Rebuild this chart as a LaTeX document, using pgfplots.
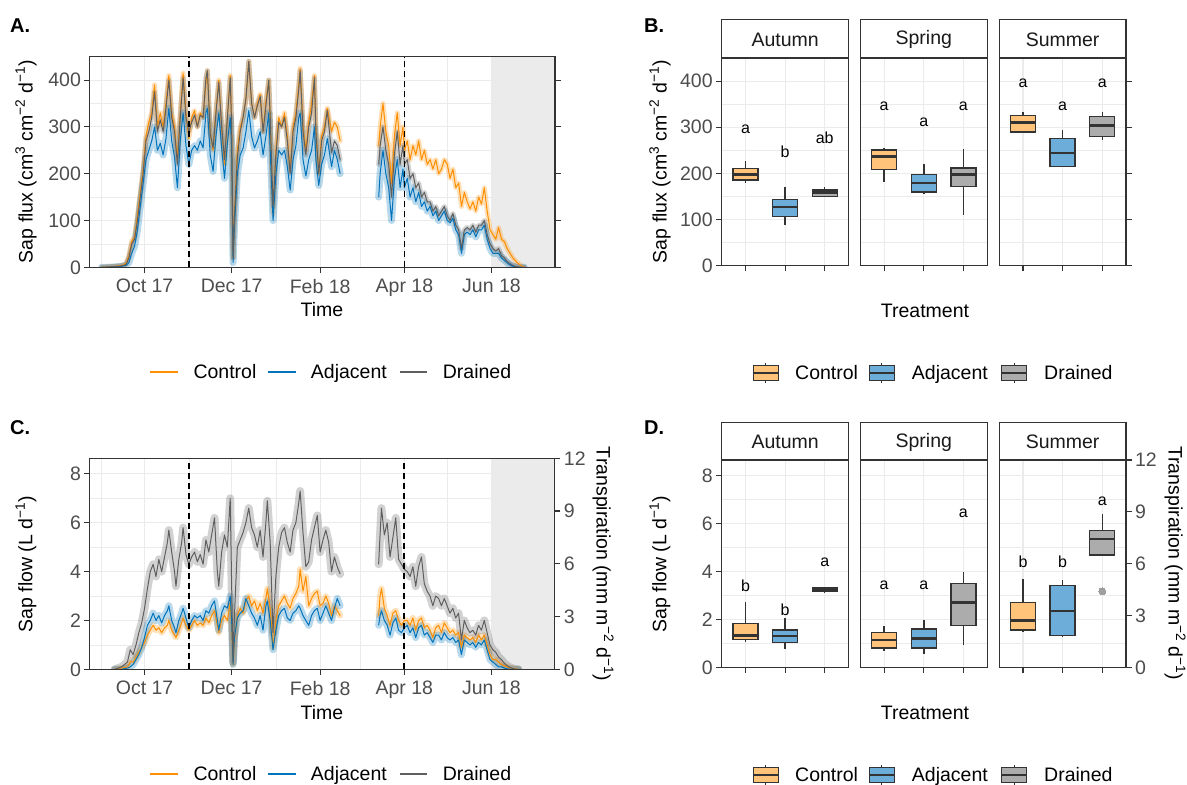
\documentclass[border=0pt]{standalone}
\usepackage{fontspec}
\setmainfont{Liberation Sans}
\usepackage{pgfplots}
\pgfplotsset{compat=1.18}
\usepackage{pgfplotstable}
\usepgfplotslibrary{statistics}

\definecolor{cctl}{RGB}{255,143,0}
\definecolor{cadj}{RGB}{0,115,187}
\definecolor{cdrn}{RGB}{95,95,95}
\definecolor{ctlfill}{RGB}{255,196,122}
\definecolor{adjfill}{RGB}{108,174,217}
\definecolor{drnfill}{RGB}{172,172,172}
\definecolor{grey20}{RGB}{51,51,51}
\definecolor{grey30}{RGB}{77,77,77}
\definecolor{grey92}{RGB}{235,235,235}
\definecolor{grey10}{RGB}{26,26,26}

\newcommand\tf{\fontsize{19.5}{22}\selectfont}
\newcommand\lf{\fontsize{16}{18}\selectfont}
\newcommand\pf{\fontsize{20}{22}\selectfont\bfseries}

\pgfplotstableread{
d c a r
-30 0 0 0
-25 1 0 1
-20 2 1 2
-16 4 2 3
-13 8 4 6
-11 25 10 20
-9 55 30 50
-7 65 45 60
-5 110 80 100
-3 160 130 150
-1 210 180 200
1 280 230 270
3 310 250 290
5 330 270 320
7 390 300 375
9 300 250 290
11 330 265 315
13 300 240 290
15 350 275 340
17 410 340 400
19 330 270 320
21 300 235 290
23 230 170 220
25 330 270 320
27 415 330 405
29 330 260 320
31 275 220 290
33 320 250 310
35 335 260 325
37 300 250 300
39 330 270 325
41 320 255 320
43 395 330 405
44 420 340 420
46 290 240 285
48 250 205 255
50 335 280 330
52 400 330 395
54 300 255 300
56 220 190 230
58 320 265 320
60 410 320 405
61 300 255 300
62 20 10 20
63 120 90 110
65 250 200 235
67 300 240 290
69 320 255 320
71 360 290 360
73 440 335 440
75 350 280 350
77 320 255 320
79 350 270 345
81 370 290 365
83 290 240 290
85 355 280 345
87 400 330 400
88 320 250 320
90 115 100 130
92 250 200 240
94 320 250 310
96 300 240 300
98 330 250 320
100 280 215 270
102 205 165 200
104 300 230 290
106 330 260 320
108 390 320 380
109 425 330 420
111 300 230 290
113 250 195 240
115 310 230 300
117 350 250 330
119 410 300 405
120 300 230 290
122 200 175 200
124 280 220 270
126 300 240 290
128 340 275 335
131 290 215 245
133 310 250 270
135 300 230 260
137 270 200 230
150 nan nan nan
164 260 150 220
165 300 200 260
167 350 250 300
169 290 200 250
171 260 170 220
173 180 100 150
175 280 190 240
177 330 230 290
179 260 170 220
181 300 210 260
182 250 170 220
184 270 190 230
186 230 150 190
188 260 170 200
190 240 140 170
192 270 160 180
194 230 130 150
196 250 140 160
198 220 120 140
200 230 130 140
202 210 110 120
204 230 120 130
206 200 100 110
208 210 110 120
210 230 120 130
212 220 100 110
214 190 95 100
216 210 105 115
218 170 80 90
220 180 70 80
222 130 30 40
224 160 70 80
226 140 75 85
228 125 70 80
230 140 80 90
232 120 65 75
234 150 80 90
236 135 80 90
238 170 90 100
240 120 60 70
242 80 40 50
244 70 30 40
246 60 30 35
248 85 30 40
250 60 20 25
252 55 15 20
254 40 10 12
256 30 5 8
258 20 2 4
261 10 0 1
264 3 0 0
266 0 0 0
}\tA

\pgfplotstableread{
d c a r
-21 0 0 0
-16 0.05 0 0.1
-12 0.1 0.05 0.3
-10 0.3 0.1 0.8
-8 0.3 0.2 0.6
-6 0.5 0.4 1.0
-4 0.7 0.6 1.5
-2 0.9 0.9 1.9
0 1.1 1.3 2.5
2 1.4 1.8 3.3
4 1.6 2.0 4.0
6 1.8 2.3 4.3
8 1.6 2.0 3.8
10 1.7 2.2 4.5
12 1.5 1.9 4.0
14 1.7 2.2 4.6
16 1.8 2.4 5.2
17 2.0 2.6 5.7
19 1.6 2.0 4.8
21 1.4 1.7 4.0
22 1.3 1.5 3.4
24 1.6 2.0 4.5
26 1.9 2.3 5.2
27 2.1 2.5 5.8
29 1.8 2.1 4.7
31 1.6 1.7 4.3
33 1.8 2.0 4.6
35 2.0 2.2 4.8
37 1.8 2.1 4.4
39 1.9 2.2 4.7
41 1.8 2.0 4.3
43 2.1 2.4 5.3
45 1.9 2.3 4.8
47 2.2 2.6 5.5
49 2.4 2.8 6.2
51 1.8 2.0 4.0
52 1.5 1.6 3.4
54 2.0 2.3 4.8
56 2.2 2.6 5.5
58 2.0 2.5 5.0
60 2.7 3.0 7.0
61 1.8 2.0 3.5
62 0.2 0.2 0.3
63 1.2 1.3 2.2
65 2.2 2.1 5.0
67 2.5 2.3 5.3
69 2.3 2.4 5.6
71 2.8 2.9 6.0
73 3.0 2.6 6.6
75 2.6 2.3 5.8
77 2.8 2.1 5.5
79 2.4 1.8 5.0
81 2.7 2.2 5.7
83 2.3 1.6 4.6
85 2.9 2.6 6.0
86 3.3 2.8 6.9
88 2.5 2.0 5.2
90 0.9 0.8 1.5
92 2.0 1.6 3.8
94 2.6 2.2 5.0
96 2.8 2.4 5.6
98 3.0 2.5 5.8
100 2.7 2.1 5.2
102 2.5 2.0 4.8
104 2.9 2.3 5.7
106 3.1 2.4 6.0
108 3.4 2.6 6.8
109 4.1 2.5 7.3
111 3.2 2.2 5.6
113 3.8 2.0 4.2
115 2.6 1.8 4.4
117 2.9 2.2 5.3
119 3.1 2.4 5.8
121 3.2 2.5 6.3
123 2.6 2.0 4.8
125 2.7 2.3 5.3
127 3.0 2.6 5.7
129 2.7 2.3 5.2
131 2.2 2.0 4.0
133 2.6 2.5 4.6
135 2.4 2.9 4.2
137 2.2 2.6 3.9
150 nan nan nan
164 2.2 1.8 4.3
165 3.0 2.2 5.5
166 3.3 2.4 6.6
168 2.5 2.0 5.5
170 2.2 1.8 6.0
172 1.8 1.4 4.6
174 2.3 1.9 5.4
176 2.4 2.1 6.2
178 2.0 1.6 4.5
180 1.8 1.5 4.3
182 2.0 1.7 4.1
184 2.0 1.8 4.0
186 1.8 1.5 3.8
188 2.1 1.7 4.2
190 1.6 1.3 3.4
192 2.0 1.7 4.2
194 2.1 1.8 4.6
196 1.7 1.4 3.5
198 1.8 1.5 3.2
200 1.6 1.3 3.0
202 1.3 1.1 2.6
204 1.7 1.4 3.0
206 1.8 1.4 2.9
208 1.5 1.2 2.6
210 1.9 1.5 2.9
212 1.7 1.3 2.6
214 1.5 1.2 2.3
216 1.6 1.3 2.5
218 1.4 1.1 2.1
220 1.5 1.2 2.3
222 0.9 0.6 1.2
224 1.4 1.2 2.0
226 1.3 1.1 1.7
228 1.2 1.0 1.5
230 1.3 1.1 1.6
232 1.1 0.9 1.4
234 1.4 1.1 1.8
236 1.2 1.0 1.6
238 1.4 1.2 2.0
240 1.0 0.8 1.5
242 0.6 0.4 1.0
244 0.4 0.3 0.8
246 0.4 0.2 0.7
248 0.3 0.1 0.5
250 0.2 0.1 0.4
252 0.15 0.05 0.25
254 0.1 0.02 0.15
256 0.06 0 0.08
258 0.04 0 0.03
260 0.02 0 0
262 0 0 0
}\tC

\pgfplotsset{
  base/.style={scale only axis,
    axis line style={grey20, line width=1.1pt},
    tick style={grey20, line width=1.1pt},
    major tick length=5.5pt, minor tick length=0pt,
    tick align=outside,
    ticklabel style={font=\tf, text=grey30},
    /pgf/number format/assume math mode=true,
    major grid style={grey92, line width=1.1pt},
    minor grid style={grey92, line width=0.55pt},
    grid=both},
  ts/.style={base, xmin=-38.3, xmax=287.5, ymin=0,
    xtick={0,61,123,182,243},
    xticklabels={Oct 17,Dec 17,Feb 18,Apr 18,Jun 18},
    xticklabel style={yshift=-3pt},
    minor xtick={-30,31,92,151,212,273}, xtick pos=bottom,
    unbounded coords=jump},
  rib/.style={line width=#1, opacity=0.28, line join=round, line cap=round},
  ln/.style={line width=1pt, line join=round},
  vl/.style={black, line width=1.7pt, dash pattern=on 6pt off 4pt},
  fac/.style={base, width=126.8pt, height=207.7pt, xmin=0.4, xmax=3.6, ymin=0,
    xtick={1,2,3}, xticklabels={}, xtick pos=bottom,
    boxplot/draw direction=y,
    boxplot/every median/.style={line width=2.8pt},
    boxplot/whisker extend=0},
  lett/.style={draw=none, mark=none, nodes near coords,
    point meta=explicit symbolic,
    nodes near coords style={font=\lf, text=black, anchor=center, inner sep=0pt}},
}
\newcommand\bx[7]{\addplot[boxplot prepared={draw position=#1, lower whisker=#2,
  lower quartile=#3, median=#4, upper quartile=#5, upper whisker=#6, box extend=0.63},
  fill=#7, draw=grey20, line width=1.4pt] coordinates {};}

\begin{document}
\begin{tikzpicture}[x=1pt,y=1pt]
\useasboundingbox (0,0) rectangle (1187,785);

% ---------------- Panel A
\begin{axis}[ts, at={(89.9pt,517.7pt)}, anchor=south west, width=465.1pt, height=210.6pt,
  ymax=450, ytick={0,100,200,300,400}, minor ytick={50,150,250,350}, ytick pos=both]
\addplot[fill=grey92, draw=none] coordinates {(243,450)(287.5,450)} \closedcycle;
\addplot[cctl, rib=5pt] table[x=d,y=c] {\tA};
\addplot[cadj, rib=7pt] table[x=d,y=a] {\tA};
\addplot[cdrn, rib=5pt] table[x=d,y=r] {\tA};
\addplot[cctl, ln] table[x=d,y=c] {\tA};
\addplot[cadj, ln] table[x=d,y=a] {\tA};
\addplot[cdrn, ln] table[x=d,y=r] {\tA};
\addplot[vl] coordinates {(31,0)(31,450)};
\addplot[vl] coordinates {(182,0)(182,450)};
\draw[grey20, line width=1.1pt] (rel axis cs:0,0) rectangle (rel axis cs:1,1);
\end{axis}

% ---------------- Panel C
\begin{axis}[ts, at={(89.9pt,115.7pt)}, anchor=south west, width=465pt, height=211pt,
  ymax=8.64, ytick={0,2,4,6,8}, minor ytick={1,3,5,7}, ytick pos=left]
\addplot[fill=grey92, draw=none] coordinates {(243,8.64)(287.5,8.64)} \closedcycle;
\addplot[cctl, rib=6pt] table[x=d,y=c] {\tC};
\addplot[cadj, rib=7pt] table[x=d,y=a] {\tC};
\addplot[cdrn, rib=8pt] table[x=d,y=r] {\tC};
\addplot[cctl, ln] table[x=d,y=c] {\tC};
\addplot[cadj, ln] table[x=d,y=a] {\tC};
\addplot[cdrn, ln] table[x=d,y=r] {\tC};
\addplot[vl] coordinates {(31,0)(31,8.64)};
\addplot[vl] coordinates {(182,0)(182,8.64)};
\draw[grey20, line width=1.1pt] (rel axis cs:0,0) rectangle (rel axis cs:1,1);
\end{axis}
\begin{axis}[base, grid=none, at={(89.9pt,115.7pt)}, anchor=south west, width=465pt, height=211pt,
  xmin=-38.3, xmax=287.5, ymin=0, ymax=12, axis x line=none, axis y line*=right,
  ytick={0,3,6,9,12}]
\addplot[draw=none] coordinates {(0,0)};
\end{axis}

% ---------------- Panel B
\begin{axis}[fac, at={(721.7pt,519.3pt)}, anchor=south west, ymax=450,
  ytick={0,100,200,300,400}, minor ytick={50,150,250,350}, ytick pos=left]
\bx{1}{179}{186}{198}{210}{226}{ctlfill}
\bx{2}{88}{106}{127}{144}{170}{adjfill}
\bx{3}{148}{150}{158}{164}{171}{drnfill}
\addplot[lett] coordinates {(1,296)[a] (2,247)[b] (3,277)[ab]};
\end{axis}
\begin{axis}[fac, at={(860.4pt,519.3pt)}, anchor=south west, ymax=450,
  ytick={0,100,200,300,400}, minor ytick={50,150,250,350}, ytick pos=left,
  yticklabels={}, y tick style={draw=none}]
\bx{1}{182}{208}{236}{251}{256}{ctlfill}
\bx{2}{156}{160}{179}{197}{220}{adjfill}
\bx{3}{110}{171}{197}{212}{253}{drnfill}
\addplot[lett] coordinates {(1,346)[a] (2,310)[a] (3,346)[a]};
\end{axis}
\begin{axis}[fac, at={(999.2pt,519.3pt)}, anchor=south west, ymax=450,
  ytick={0,100,200,300,400}, minor ytick={50,150,250,350}, ytick pos=right,
  yticklabels={}]
\bx{1}{288}{290}{310}{325}{334}{ctlfill}
\bx{2}{214}{215}{244}{275}{294}{adjfill}
\bx{3}{272}{280}{303}{323}{334}{drnfill}
\addplot[lett] coordinates {(1,396)[a] (2,346)[a] (3,396)[a]};
\end{axis}

% ---------------- Panel D
\begin{axis}[fac, at={(721.7pt,117.3pt)}, anchor=south west, ymax=8.64,
  ytick={0,2,4,6,8}, minor ytick={1,3,5,7}, ytick pos=left]
\bx{1}{1.08}{1.18}{1.35}{1.84}{2.73}{ctlfill}
\bx{2}{0.79}{1.05}{1.32}{1.57}{2.05}{adjfill}
\bx{3}{3.11}{3.16}{3.26}{3.34}{3.36}{drnfill}
\addplot[lett] coordinates {(1,3.41)[b] (2,2.43)[b] (3,4.40)[a]};
\end{axis}
\begin{axis}[fac, at={(860.4pt,117.3pt)}, anchor=south west, ymax=8.64,
  ytick={0,2,4,6,8}, minor ytick={1,3,5,7}, ytick pos=left,
  yticklabels={}, y tick style={draw=none}]
\bx{1}{0.71}{0.82}{1.15}{1.46}{1.73}{ctlfill}
\bx{2}{0.58}{0.82}{1.21}{1.61}{2.0}{adjfill}
\bx{3}{0.93}{1.75}{2.70}{3.51}{3.98}{drnfill}
\addplot[lett] coordinates {(1,3.41)[a] (2,3.41)[a] (3,6.41)[a]};
\end{axis}
\begin{axis}[fac, at={(999.2pt,117.3pt)}, anchor=south west, ymax=8.64,
  ytick={0,2,4,6,8}, minor ytick={1,3,5,7}, ytick pos=left,
  yticklabels={}, y tick style={draw=none}]
\bx{1}{1.50}{1.57}{1.96}{2.70}{3.70}{ctlfill}
\bx{2}{1.29}{1.35}{2.36}{3.41}{3.65}{adjfill}
\bx{3}{4.69}{4.69}{5.35}{5.70}{6.38}{drnfill}
\addplot[only marks, mark=*, mark size=3.5pt, mark options={draw=gray!75, fill=gray!75, line width=0pt}] coordinates {(3,3.18)};
\addplot[lett] coordinates {(1,4.40)[b] (2,4.40)[b] (3,6.91)[a]};
\end{axis}
\begin{axis}[base, grid=none, at={(999.2pt,117.3pt)}, anchor=south west, width=126.8pt, height=207.7pt,
  xmin=0.4, xmax=3.6, ymin=0, ymax=12, axis x line=none, axis y line*=right,
  ytick={0,3,6,9,12}]
\addplot[draw=none] coordinates {(1,0)};
\end{axis}

% ---------------- strips
\foreach \xx/\nn in {721.7/Autumn, 860.4/Spring, 999.2/Summer} {
  \draw[grey20, line width=1.1pt, fill=white] (\xx,727) rectangle ++(126.8,38.7);
  \node[font=\tf, text=grey10] at (\xx+63.4,745.5) {\nn};
  \draw[grey20, line width=1.1pt, fill=white] (\xx,325) rectangle ++(126.8,37.3);
  \node[font=\tf, text=grey10] at (\xx+63.4,343) {\nn};
}

% ---------------- titles
\node[font=\pf, anchor=west, inner sep=0pt] at (10,759) {A.};
\node[font=\pf, anchor=west, inner sep=0pt] at (644,759) {B.};
\node[font=\pf, anchor=west, inner sep=0pt] at (10,357) {C.};
\node[font=\pf, anchor=west, inner sep=0pt] at (644,357) {D.};
\node[font=\tf, rotate=90] at (26,623.3) {Sap flux (cm\textsuperscript{3} cm\textsuperscript{−2} d\textsuperscript{−1})};
\node[font=\tf, rotate=90] at (660,623.3) {Sap flux (cm\textsuperscript{3} cm\textsuperscript{−2} d\textsuperscript{−1})};
\node[font=\tf, rotate=90] at (26,220.8) {Sap flow (L d\textsuperscript{−1})};
\node[font=\tf, rotate=90] at (660,220.8) {Sap flow (L d\textsuperscript{−1})};
\node[font=\tf, rotate=-90] at (603,221) {Transpiration (mm m\textsuperscript{−2} d\textsuperscript{−1})};
\node[font=\tf, rotate=-90] at (1175,221.7) {Transpiration (mm m\textsuperscript{−2} d\textsuperscript{−1})};
\node[font=\tf] at (322,475) {Time};
\node[font=\tf] at (322,72.5) {Time};
\node[font=\tf] at (925,474.2) {Treatment};
\node[font=\tf] at (925,72.5) {Treatment};

% ---------------- line legends
\foreach \yy in {413,11} {
  \draw[color=cctl, line width=1.8pt] (150,\yy) -- (178.3,\yy);
  \node[font=\tf, anchor=base west, inner sep=0pt] at (193.3,\yy-7) {Control};
  \draw[color=cadj, line width=1.8pt] (268.3,\yy) -- (296,\yy);
  \node[font=\tf, anchor=base west, inner sep=0pt] at (310.7,\yy-7) {Adjacent};
  \draw[color=cdrn, line width=1.8pt] (400,\yy) -- (427.3,\yy);
  \node[font=\tf, anchor=base west, inner sep=0pt] at (442.7,\yy-7) {Drained};
}
% ---------------- box legends
\foreach \yy in {412,10} {
  \foreach \gx/\fc/\tx/\lb in {753.3/ctlfill/795/Control, 869.3/adjfill/911.7/Adjacent, 1001.7/drnfill/1044/Drained} {
    \draw[grey20, line width=1.1pt] (\gx+12.5,\yy-10) -- (\gx+12.5,\yy+10);
    \filldraw[fill=\fc, draw=grey20, line width=1.1pt] (\gx,\yy-7.8) rectangle (\gx+25,\yy+7.8);
    \draw[grey20, line width=1.1pt] (\gx,\yy) -- (\gx+25,\yy);
    \node[font=\tf, anchor=base west, inner sep=0pt] at (\tx,\yy-7) {\lb};
  }
}
\end{tikzpicture}
\end{document}
